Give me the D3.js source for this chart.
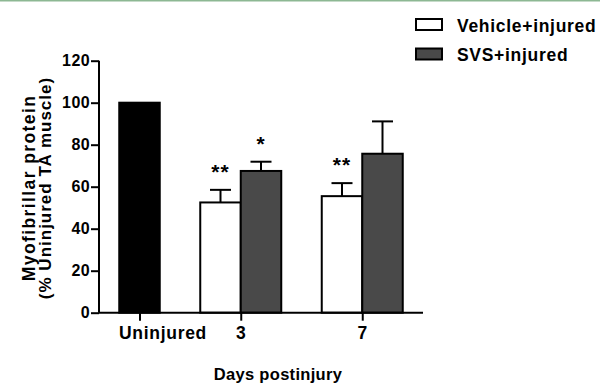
<!DOCTYPE html>
<html>
<head>
<meta charset="utf-8">
<script src="https://cdn.jsdelivr.net/npm/d3@7"></script>
<style>
  body { margin: 0; background: #fff; }
  svg { display: block; font-family: "Liberation Sans", Arial, sans-serif; font-weight: bold; }
</style>
</head>
<body>
<div id="chart-area"></div>
<script>
// data
var groups = ["Uninjured", "3", "7"];
var seriesNames = ["Vehicle+injured", "SVS+injured"];
var uninjuredValue = 100;
var vehicleMeans = [52.5, 55.5];
var vehicleErr = [6, 6.2];
var svsMeans = [67.5, 75.7];
var svsErr = [4.4, 15.4];
var vehicleStars = ["**", "**"];
var svsStars = ["*", ""];
var yTicks = [0, 20, 40, 60, 80, 100, 120];

var width = 600, height = 384;
var svg = d3.select("#chart-area").append("svg")
    .attr("width", width)
    .attr("height", height);

// thin green rule at the top of the page
svg.append("rect")
    .attr("x", 0).attr("y", 0)
    .attr("width", width).attr("height", 1.5)
    .attr("fill", "#8db893");

// x is measured in "bar slots"
var x = d3.scaleLinear().domain([0, 8]).range([99, 423]);
var y = d3.scaleLinear().domain([0, 120]).range([312.7, 60.7]);

var groupCenter = [1, 3.5, 6.5];
var labelShift = [23, 0, 0]; // "Uninjured" sits right of its tick in the original

// build the bar list
var bars = [{ x0: 0.5, v: uninjuredValue, err: 0, fill: "#000", star: "" }];
for (var i = 0; i < 2; i++) {
  var start = groupCenter[i + 1] - 1;
  bars.push({ x0: start, v: vehicleMeans[i], err: vehicleErr[i], fill: "#fff", star: vehicleStars[i] });
  bars.push({ x0: start + 1, v: svsMeans[i], err: svsErr[i], fill: "#494949", star: svsStars[i] });
}

// error bars (drawn first so bar outline covers the bottom)
var eb = svg.selectAll(".err").data(bars.filter(function(d) { return d.err > 0; }))
  .enter().append("g").attr("class", "err")
  .attr("stroke", "#000").attr("stroke-width", 2);
eb.append("line")
  .attr("x1", function(d) { return x(d.x0 + 0.5); })
  .attr("x2", function(d) { return x(d.x0 + 0.5); })
  .attr("y1", function(d) { return y(d.v); })
  .attr("y2", function(d) { return y(d.v + d.err); });
eb.append("line")
  .attr("x1", function(d) { return x(d.x0 + 0.5) - 10.5; })
  .attr("x2", function(d) { return x(d.x0 + 0.5) + 10.5; })
  .attr("y1", function(d) { return y(d.v + d.err); })
  .attr("y2", function(d) { return y(d.v + d.err); });

svg.selectAll(".bar").data(bars)
  .enter().append("rect")
  .attr("class", "bar")
  .attr("x", function(d) { return x(d.x0); })
  .attr("width", function(d) { return x(d.x0 + 1) - x(d.x0); })
  .attr("y", function(d) { return y(d.v); })
  .attr("height", function(d) { return y(0) - y(d.v); })
  .attr("fill", function(d) { return d.fill; })
  .attr("stroke", "#000")
  .attr("stroke-width", 2);

// significance stars
svg.selectAll(".star").data(bars.filter(function(d) { return d.star; }))
  .enter().append("text")
  .attr("class", "star")
  .attr("x", function(d) { return x(d.x0 + 0.5); })
  .attr("y", function(d) { return y(d.v + d.err) - 11; })
  .attr("text-anchor", "middle")
  .attr("font-size", 21)
  .attr("letter-spacing", 1)
  .text(function(d) { return d.star; });

// y axis
var yAxis = svg.append("g")
  .attr("transform", "translate(" + x(0) + ",0)")
  .call(d3.axisLeft(y).tickValues(yTicks).tickSize(8).tickPadding(1));
yAxis.selectAll("text").attr("font-size", 16).attr("letter-spacing", 0.4).attr("fill", "#000")
  .attr("font-family", "Liberation Sans, Arial, sans-serif").attr("font-weight", "bold");

// x axis
var xAxis = svg.append("g")
  .attr("transform", "translate(0," + y(0) + ")")
  .call(d3.axisBottom(x).tickValues(groupCenter)
    .tickFormat(function(d, i) { return groups[i]; })
    .tickSize(8).tickPadding(6));
xAxis.selectAll("text").attr("font-size", 17.5).attr("letter-spacing", 0.7).attr("fill", "#000")
  .attr("font-family", "Liberation Sans, Arial, sans-serif").attr("font-weight", "bold")
  .attr("dx", function(d, i) { return labelShift[i]; });

svg.selectAll(".domain, .tick line").attr("stroke", "#000").attr("stroke-width", 2);
// plain axis lines without outer ticks
yAxis.select(".domain").attr("d", "M0," + y(120) + "V" + y(0));
xAxis.select(".domain").attr("d", "M" + x(0) + ",0H" + x(8));

// axis titles
svg.append("text")
  .attr("x", 278).attr("y", 380)
  .attr("text-anchor", "middle")
  .attr("font-size", 16.5)
  .attr("letter-spacing", 0.3)
  .text("Days postinjury");

svg.append("text")
  .attr("transform", "translate(35,188) rotate(-90)")
  .attr("text-anchor", "middle")
  .attr("font-size", 17.5)
  .attr("letter-spacing", 1.4)
  .text("Myofibrillar protein");
svg.append("text")
  .attr("transform", "translate(51,188) rotate(-90)")
  .attr("text-anchor", "middle")
  .attr("font-size", 17)
  .attr("letter-spacing", 1)
  .text("(% Uninjured TA muscle)");

// legend
var legendFill = ["#fff", "#494949"];
var legend = svg.selectAll(".legend").data(seriesNames)
  .enter().append("g").attr("class", "legend")
  .attr("transform", function(d, i) { return "translate(416," + (19 + i * 29.5) + ")"; });
legend.append("rect")
  .attr("width", 26).attr("height", 11)
  .attr("fill", function(d, i) { return legendFill[i]; })
  .attr("stroke", "#000").attr("stroke-width", 2);
legend.append("text")
  .attr("x", 41).attr("y", 12.5)
  .attr("font-size", 17.5)
  .attr("letter-spacing", 0.7)
  .text(function(d) { return d; });
</script>
</body>
</html>
